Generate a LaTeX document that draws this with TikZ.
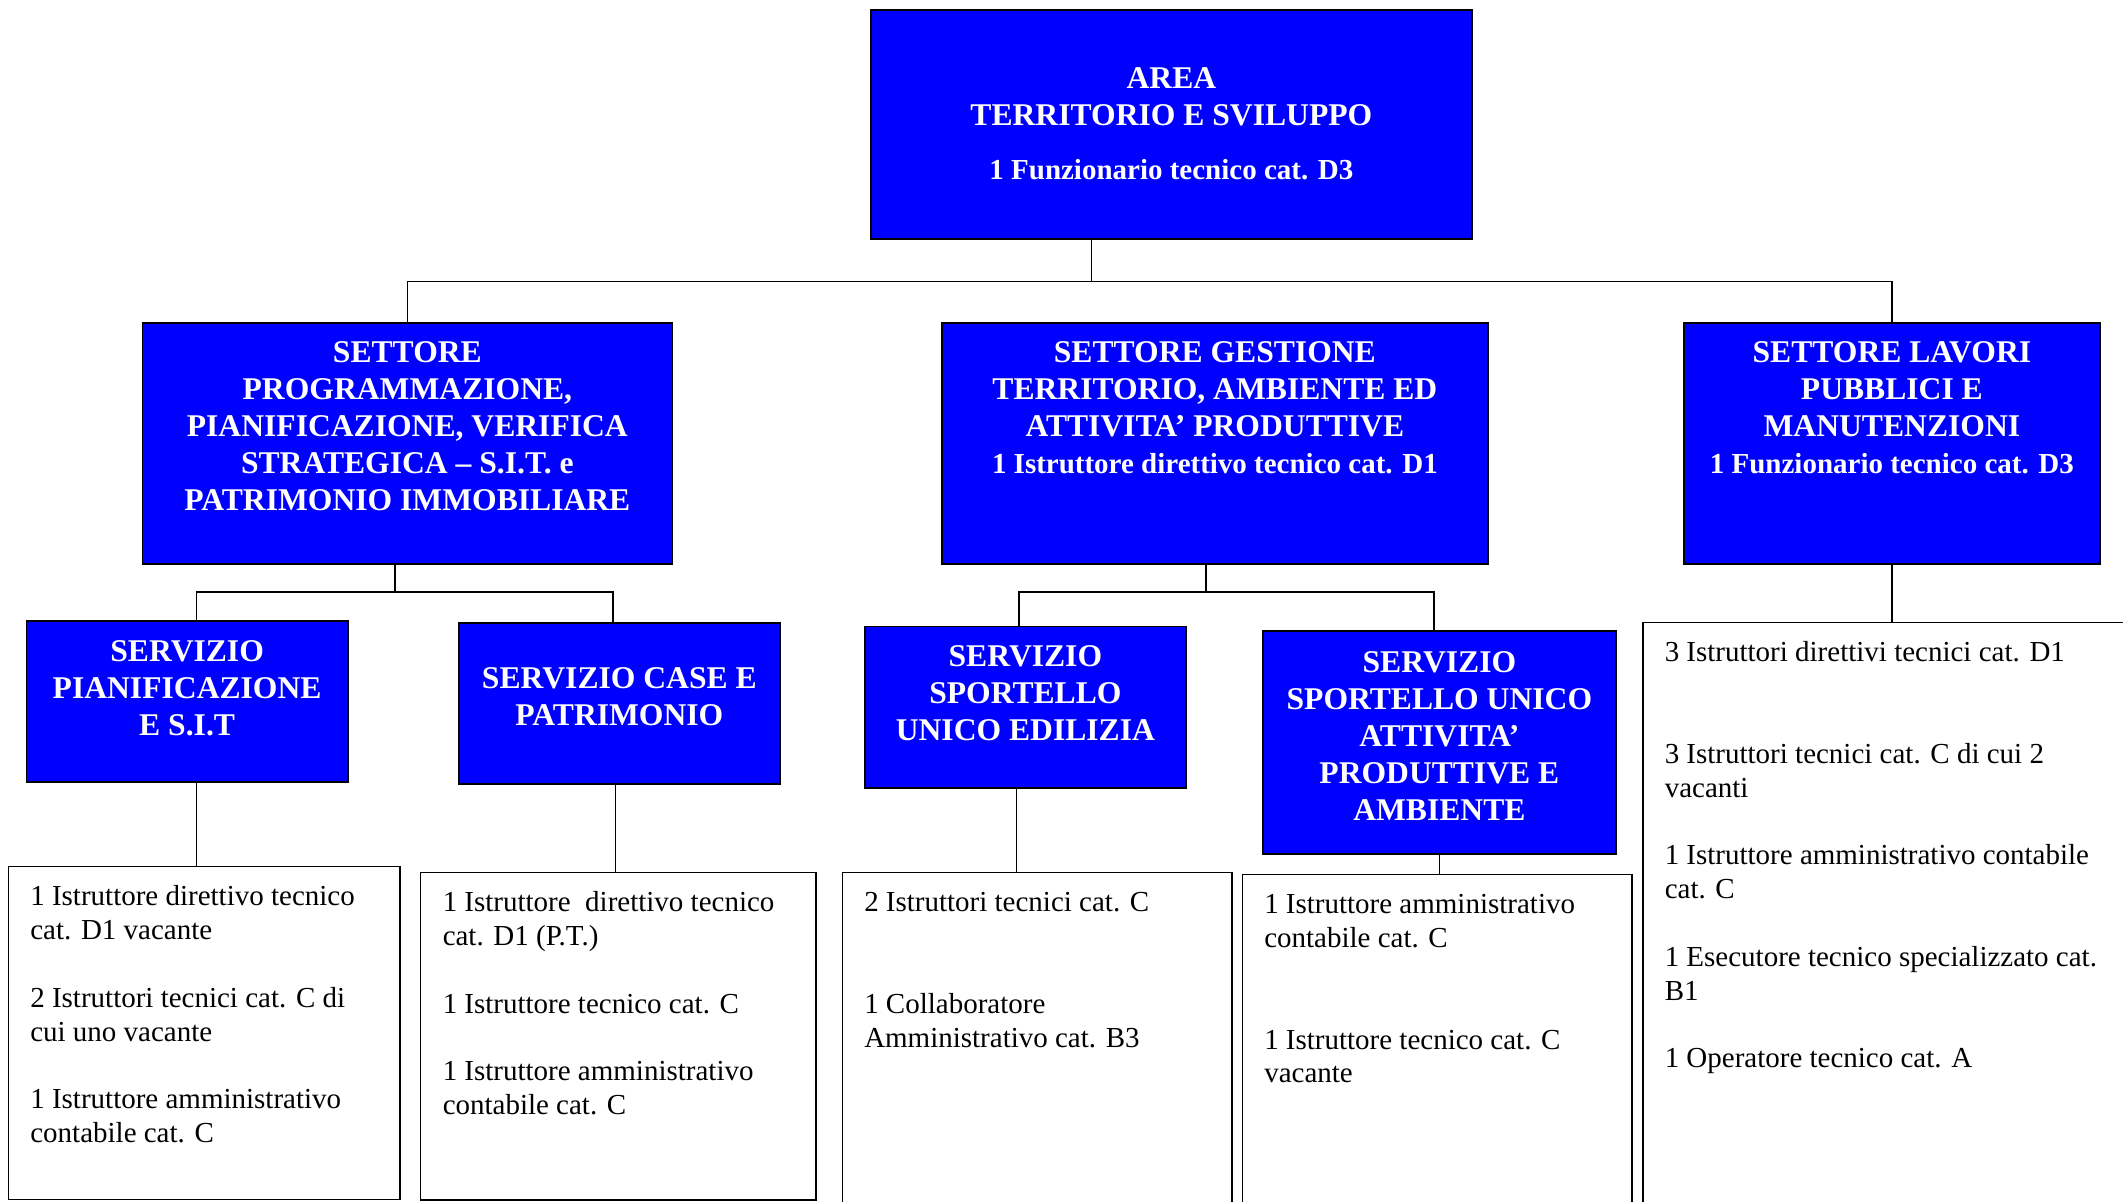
\documentclass[tikz,border=0pt]{standalone}
\usepackage{fontspec}
\setmainfont{Liberation Serif}
\definecolor{unitblue}{HTML}{0000FF}
\newlength\pxu
\setlength\pxu{0.02cm}
\newcommand{\titlefont}{\fontsize{18}{21.05}\selectfont\bfseries}
\newcommand{\stafffont}{\fontsize{16.5}{21.05}\selectfont}
\newcommand{\listfont}{\fontsize{16.5}{19.26}\selectfont}
% width, height, first baseline, text
\newcommand{\bluecell}[4]{\parbox[c][#2\pxu][t]{#1\pxu}{\centering\titlefont\rule{0pt}{#3\pxu}#4}}
% width, height, text
\newcommand{\listcell}[3]{\parbox[c][#2\pxu][t]{#1\pxu}{\raggedright\listfont\leftskip=22\pxu\rule{0pt}{39\pxu}#3}}

\begin{document}
\begin{tikzpicture}[x=0.02cm, y=-0.02cm,
    unit/.style={draw=black, line width=1pt, fill=unitblue, text=white, inner sep=0pt, anchor=north west},
    staff/.style={draw=black, line width=0.85pt, fill=white, text=black, inner sep=0pt, anchor=north west},
    link/.style={draw=black, line width=0.85pt}]
                \useasboundingbox (0,0) rectangle (2123,1202);
                \clip (0,0) rectangle (2123,1202);

                % Area
                \node[unit] (area) at (870,9.5) {\bluecell{601}{228.5}{78}{AREA\\TERRITORIO E SVILUPPO\\[17\pxu]\stafffont 1 Funzionario tecnico cat. D3}};

                % Settori
                \node[unit] (progr) at (141.5,322) {\bluecell{530}{241}{40}{SETTORE\\PROGRAMMAZIONE,\\PIANIFICAZIONE, VERIFICA\\STRATEGICA -- S.I.T. e\\PATRIMONIO IMMOBILIARE}};
                \node[unit] (gest) at (941,322) {\bluecell{546}{241}{40}{SETTORE GESTIONE\\TERRITORIO, AMBIENTE ED\\ATTIVITA’ PRODUTTIVE\\\stafffont 1 Istruttore direttivo tecnico cat. D1}};
                \node[unit] (lavori) at (1683,322) {\bluecell{416}{241}{40}{SETTORE LAVORI\\PUBBLICI E\\MANUTENZIONI\\\stafffont 1 Funzionario tecnico cat. D3}};

                % Servizi
                \node[unit] (pianif) at (25.5,620) {\bluecell{321.5}{161}{40.5}{SERVIZIO\\PIANIFICAZIONE\\E S.I.T}};
                \node[unit] (case) at (458,622) {\bluecell{321}{161}{65.5}{SERVIZIO CASE E\\PATRIMONIO}};
                \node[unit] (edil) at (864,625.5) {\bluecell{321}{161.5}{40}{SERVIZIO\\SPORTELLO\\UNICO EDILIZIA}};
                \node[unit] (suap) at (1262,630) {\bluecell{353}{223}{41.5}{SERVIZIO\\SPORTELLO UNICO\\ATTIVITA’\\PRODUTTIVE E\\AMBIENTE}};

                % Personale
                \node[staff] (pianifstaff) at (7.6,866) {\listcell{391.5}{332.5}{1 Istruttore direttivo tecnico\\cat. D1 vacante\\[\baselineskip]2 Istruttori tecnici cat. C di\\cui uno vacante\\[\baselineskip]1 Istruttore amministrativo\\contabile cat. C}};
                \node[staff] (casestaff) at (420,872) {\listcell{395}{327}{1 Istruttore\ \ direttivo tecnico\\cat. D1 (P.T.)\\[\baselineskip]1 Istruttore tecnico cat. C\\[\baselineskip]1 Istruttore amministrativo\\contabile cat. C}};
                \node[staff] (edilstaff) at (841.5,872) {\listcell{389.5}{345}{2 Istruttori tecnici cat. C\\[2\baselineskip]1 Collaboratore\\Amministrativo cat. B3}};
                \node[staff] (suapstaff) at (1241.5,874) {\listcell{389.5}{345}{1 Istruttore amministrativo\\contabile cat. C\\[2\baselineskip]1 Istruttore tecnico cat. C\\vacante}};
                \node[staff] (lavoristaff) at (1642,622) {\listcell{500}{600}{3 Istruttori direttivi tecnici cat. D1\\[2\baselineskip]3 Istruttori tecnici cat. C di cui 2\\vacanti\\[\baselineskip]1 Istruttore amministrativo contabile\\cat. C\\[\baselineskip]1 Esecutore tecnico specializzato cat.\\B1\\[\baselineskip]1 Operatore tecnico cat. A}};

                % Area -> settori
                \draw[link] ([xshift=-1.6cm]area.south) -- ++(0,41.5) coordinate (j0);
                \draw[link] (progr.north) |- (j0) -| (lavori.north);

                % Programmazione -> servizi
                \draw[link] ([xshift=-0.25cm]progr.south) -- ++(0,27) coordinate (j1);
                \draw[link] ([xshift=0.19cm]pianif.north) |- (j1) -| ([xshift=-0.13cm]case.north);

                % Gestione -> servizi
                \draw[link] ([xshift=-0.18cm]gest.south) -- ++(0,27) coordinate (j2);
                \draw[link] ([xshift=-0.13cm]edil.north) |- (j2) -| ([xshift=-0.11cm]suap.north);

                % Servizi -> personale
                \draw[link] ([xshift=0.19cm]pianif.south) coordinate (s1) -- (s1 |- pianifstaff.north);
                \draw[link] ([xshift=-0.08cm]case.south) coordinate (s2) -- (s2 |- casestaff.north);
                \draw[link] ([xshift=-0.18cm]edil.south) coordinate (s3) -- (s3 |- edilstaff.north);
                \draw[link] (suap.south) -- (suap.south |- suapstaff.north);
                \draw[link] (lavori.south) -- (lavori.south |- lavoristaff.north);
            \end{tikzpicture}
\end{document}
